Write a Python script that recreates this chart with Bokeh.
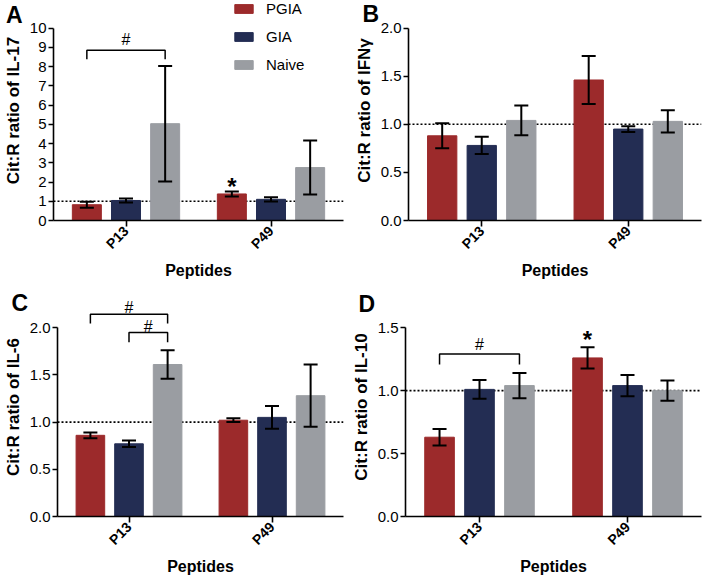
import math
from bokeh.plotting import figure
from bokeh.layouts import row, column
from bokeh.models import (ColumnDataSource, FactorRange, Span, Whisker, TeeHead,
                          FixedTicker, NumeralTickFormatter)
from bokeh.transform import dodge
from bokeh.core.properties import value
from bokeh.embed import file_html
from bokeh.resources import INLINE

FONT = "Liberation Sans"

# ---------------- data ----------------
peptides = ["P13", "P49"]
groups = ["PGIA", "GIA", "Naive"]
group_colors = ["#9C2A2B", "#232D53", "#9A9DA2"]
reference_ratio = 1.0

# Panel A: IL-17
il17_mean = {"PGIA": [0.82, 1.38], "GIA": [1.04, 1.10], "Naive": [5.03, 2.75]}
il17_sem = {"PGIA": [0.16, 0.13], "GIA": [0.10, 0.11], "Naive": [3.00, 1.40]}
il17_ticks = [0, 1, 2, 3, 4, 5, 6, 7, 8, 9, 10]
il17_brackets = [("P13", "PGIA", "Naive", 8.84, 8.38, 9.41)]
il17_stars = [("P49", "PGIA", 1.96)]

# Panel B: IFN-gamma
ifng_mean = {"PGIA": [0.88, 1.46], "GIA": [0.78, 0.95], "Naive": [1.04, 1.03]}
ifng_sem = {"PGIA": [0.13, 0.25], "GIA": [0.09, 0.03], "Naive": [0.155, 0.115]}
ifng_ticks = [0.0, 0.5, 1.0, 1.5, 2.0]
ifng_brackets = []
ifng_stars = []

# Panel C: IL-6
il6_mean = {"PGIA": [0.86, 1.02], "GIA": [0.77, 1.05], "Naive": [1.61, 1.28]}
il6_sem = {"PGIA": [0.03, 0.02], "GIA": [0.035, 0.12], "Naive": [0.15, 0.33]}
il6_ticks = [0.0, 0.5, 1.0, 1.5, 2.0]
il6_brackets = [("P13", "PGIA", "Naive", 2.142, 2.045, 2.218),
                ("P13", "GIA", "Naive", 1.948, 1.847, 2.017)]
il6_stars = []

# Panel D: IL-10
il10_mean = {"PGIA": [0.63, 1.26], "GIA": [1.01, 1.04], "Naive": [1.04, 1.00]}
il10_sem = {"PGIA": [0.065, 0.085], "GIA": [0.075, 0.085], "Naive": [0.10, 0.08]}
il10_ticks = [0.0, 0.5, 1.0, 1.5]
il10_brackets = [("P13", "PGIA", "Naive", 1.292, 1.207, 1.363)]
il10_stars = [("P49", "PGIA", 1.44)]

OFFSETS = {"PGIA": -0.27, "GIA": 0.0, "Naive": 0.27}
BAR_W = 0.2


def panel(ylabel, means, sems, ticks, fmt, y_end, y_top,
          width, height, ml, mr, mt, mb, brackets, stars, legend=False):
    p = figure(x_range=FactorRange(factors=peptides), y_range=(0, y_end),
               width=width, height=height, output_backend="svg",
               toolbar_location=None, min_border_left=ml, min_border_right=mr,
               min_border_top=mt, min_border_bottom=mb)
    p.x_range.range_padding = 0
    p.outline_line_color = None
    p.grid.visible = False
    p.background_fill_color = "white"
    p.border_fill_color = "white"

    span = Span(location=reference_ratio, dimension="width", line_color="black",
                line_width=1.6, line_dash="2 2")
    span.level = "underlay"
    p.add_layout(span)

    for g, c in zip(groups, group_colors):
        m = means[g]
        s = sems[g]
        src = ColumnDataSource(dict(peptide=peptides, mean=m,
                                    upper=[a + b for a, b in zip(m, s)],
                                    lower=[a - b for a, b in zip(m, s)]))
        kw = dict(legend_label=g) if legend else {}
        p.vbar(x=dodge("peptide", OFFSETS[g], range=p.x_range), top="mean",
               width=BAR_W, source=src, fill_color=c, line_color=c, **kw)
        w = Whisker(source=src, base=dodge("peptide", OFFSETS[g], range=p.x_range),
                    upper="upper", lower="lower", line_color="black", line_width=2,
                    upper_head=TeeHead(size=14, line_width=2, line_color="black"),
                    lower_head=TeeHead(size=14, line_width=2, line_color="black"))
        w.level = "annotation"
        p.add_layout(w)

    # significance brackets
    for pep, g1, g2, ybar, ytick, ylab in brackets:
        cx = peptides.index(pep) + 0.5
        x1 = cx + OFFSETS[g1]
        x2 = cx + OFFSETS[g2]
        p.multi_line(xs=[[x1, x1, x2, x2]], ys=[[ytick, ybar, ybar, ytick]],
                     line_color="black", line_width=1.5)
        p.text(x=[(x1 + x2) / 2], y=[ylab], text=["#"], text_font=value(FONT),
               text_font_size="16px", text_align="center", text_baseline="middle",
               text_color="black")
    for pep, g, ys in stars:
        cx = peptides.index(pep) + 0.5 + OFFSETS[g]
        p.text(x=[cx], y=[ys], text=["*"], text_font=value(FONT),
               text_font_size="24px", text_font_style="bold", text_align="center",
               text_baseline="middle", y_offset=4, text_color="black")

    # axes
    for ax in (p.xaxis[0], p.yaxis[0]):
        ax.axis_line_width = 1.6
        ax.axis_line_color = "black"
        ax.major_tick_line_width = 1.6
        ax.major_tick_line_color = "black"
        ax.major_tick_in = 0
        ax.minor_tick_line_color = None
        ax.major_label_text_font = FONT
        ax.major_label_text_color = "black"
        ax.axis_label_text_font = FONT
        ax.axis_label_text_font_style = "bold"
        ax.axis_label_text_color = "black"
    p.yaxis.major_tick_out = 5
    p.yaxis.ticker = FixedTicker(ticks=ticks)
    p.yaxis.formatter = NumeralTickFormatter(format=fmt)
    p.yaxis.bounds = (0, y_top)
    p.yaxis.major_label_text_font_size = "15px"
    p.yaxis.major_label_standoff = 2
    p.yaxis.axis_label = ylabel
    p.yaxis.axis_label_text_font_size = "17px"
    p.yaxis.axis_label_standoff = 4

    p.xaxis.major_tick_out = 6
    p.xaxis.major_label_orientation = math.pi / 4
    p.xaxis.major_label_text_font_size = "14px"
    p.xaxis.major_label_text_font_style = "bold"
    p.xaxis.major_label_standoff = 2
    p.xaxis.axis_label = "Peptides"
    p.xaxis.axis_label_text_font_size = "16px"
    p.xaxis.axis_label_standoff = 2

    if legend:
        lg = p.legend[0]
        lg.location = (179, 146)
        lg.glyph_width = 23
        lg.glyph_height = 11
        lg.label_height = 20
        lg.label_standoff = 11
        lg.spacing = 8
        lg.padding = 0
        lg.margin = 0
        lg.border_line_color = None
        lg.background_fill_alpha = 0
        lg.label_text_font = FONT
        lg.label_text_font_size = "15px"
        lg.label_text_color = "black"
    return p


def panel_letter(p, text, x, y):
    p.text(x=[x], y=[y], text=[text], text_font=value(FONT),
           text_font_size="23px", text_font_style="bold",
           text_baseline="alphabetic", text_color="black", level="overlay")


pA = panel("Cit:R ratio of IL-17", il17_mean, il17_sem, il17_ticks, "0",
           11.43, 10, 348, 290, 50, 5, 0, 70, il17_brackets, il17_stars, legend=True)
panel_letter(pA, "A", -0.328, 10.69)
pB = panel("Cit:R ratio of IFNγ", ifng_mean, ifng_sem, ifng_ticks, "0.0",
           2.286, 2.0, 354, 290, 60, 1, 0, 70, ifng_brackets, ifng_stars)
panel_letter(pB, "B", -0.314, 2.141)
pC = panel("Cit:R ratio of IL-6", il6_mean, il6_sem, il6_ticks, "0.0",
           2.32, 2.0, 348, 288, 50, 5, 7, 60, il6_brackets, il6_stars)
panel_letter(pC, "C", -0.321, 2.257)
pD = panel("Cit:R ratio of IL-10", il10_mean, il10_sem, il10_ticks, "0.0",
           1.74, 1.5, 354, 288, 57, 1, 7, 60, il10_brackets, il10_stars)
panel_letter(pD, "D", -0.318, 1.685)

layout = column(row(pA, pB), row(pC, pD))
open("out.html", "w").write(file_html(layout, INLINE))
